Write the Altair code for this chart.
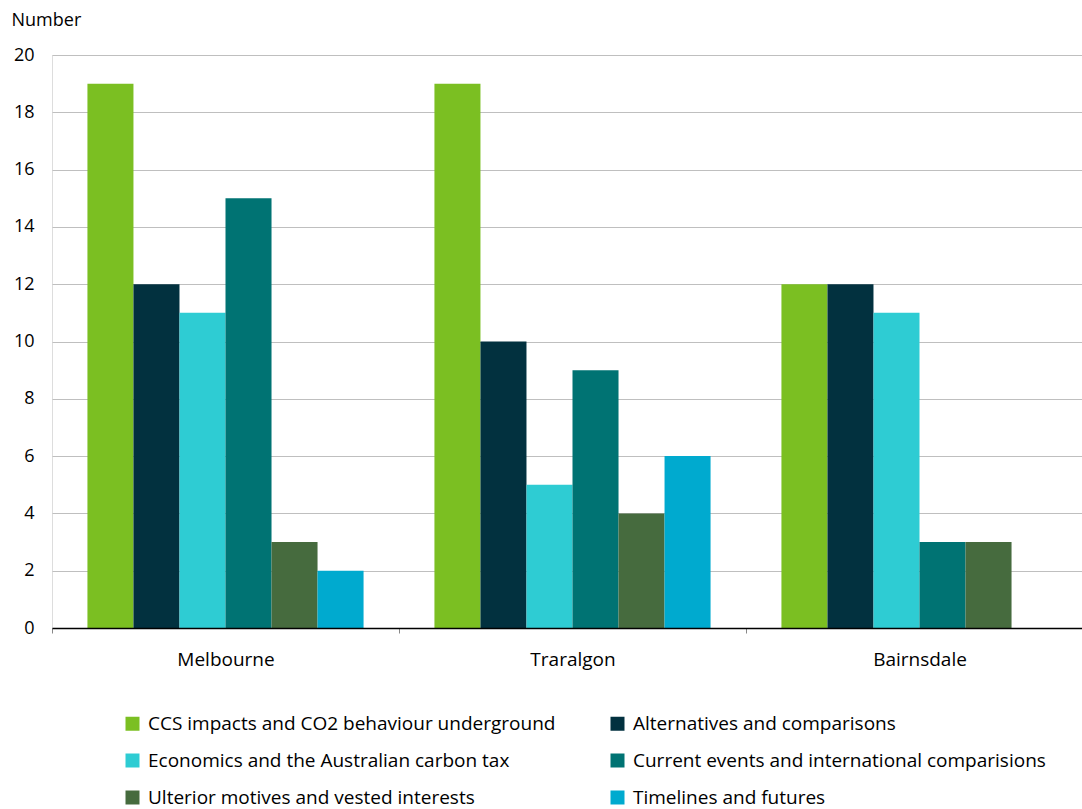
import altair as alt
import pandas as pd

locations = ["Melbourne", "Traralgon", "Bairnsdale"]
series = [
    "CCS impacts and CO2 behaviour underground",
    "Alternatives and comparisons",
    "Economics and the Australian carbon tax",
    "Current events and international comparisions",
    "Ulterior motives and vested interests",
    "Timelines and futures",
]
colors = ["#7BBF22", "#02313F", "#2ECCD3", "#007373", "#466B3E", "#00AACF"]

melbourne = [19, 12, 11, 15, 3, 2]
traralgon = [19, 10, 5, 9, 4, 6]
bairnsdale = [12, 12, 11, 3, 3, None]

rows = []
for loc, vals in zip(locations, [melbourne, traralgon, bairnsdale]):
    for s, v in zip(series, vals):
        if v is not None:
            rows.append({"Location": loc, "Topic": s, "Number": v})
df = pd.DataFrame(rows)

FONT = "Open Sans"

chart = (
    alt.Chart(df)
    .mark_bar()
    .encode(
        x=alt.X(
            "Location:N",
            sort=locations,
            scale=alt.Scale(range=[0, 1041], paddingInner=0, paddingOuter=0),
            axis=alt.Axis(
                title=None,
                labelAngle=0,
                tickBand="extent",
                tickSize=5,
                tickColor="#888888",
                domainColor="#000000",
                domainWidth=1.5,
                labelFontSize=19,
                labelPadding=17,
                labelColor="#000000",
                labelFont=FONT,
                grid=False,
                zindex=1,
            ),
        ),
        xOffset=alt.XOffset(
            "Topic:N",
            sort=series,
            scale=alt.Scale(domain=series, paddingInner=0, paddingOuter=0.77),
        ),
        y=alt.Y(
            "Number:Q",
            scale=alt.Scale(domain=[0, 20]),
            axis=alt.Axis(
                values=list(range(0, 21, 2)),
                title="Number",
                titleAngle=0,
                titleAlign="left",
                titleBaseline="middle",
                titleX=-41,
                titleY=-35,
                titleFont=FONT,
                titleFontSize=18,
                titleFontWeight="normal",
                titleColor="#000000",
                ticks=False,
                domain=False,
                labelFontSize=18,
                labelFont=FONT,
                labelColor="#000000",
                labelPadding=18,
                gridColor="#BFBFBF",
                gridWidth=1,
            ),
        ),
        color=alt.Color(
            "Topic:N",
            sort=series,
            scale=alt.Scale(domain=series, range=colors),
            legend=alt.Legend(
                title=None,
                orient="none",
                direction="horizontal",
                legendX=71,
                legendY=659,
                columns=2,
                columnPadding=52,
                rowPadding=17,
                symbolType="square",
                symbolSize=196,
                symbolStrokeWidth=0,
                symbolOpacity=1,
                labelFontSize=19,
                labelFont=FONT,
                labelColor="#000000",
                labelLimit=600,
                labelOffset=6,
            ),
        ),
    )
    .properties(
        width=1030,
        height=573,
        autosize=alt.AutoSizeParams(type="none"),
        padding={"left": 52, "top": 55, "right": 0, "bottom": 181},
    )
    .configure_view(stroke=None)
    .configure(background="white")
)

chart.save("out.html", embed_options={"renderer": "svg", "actions": False})
